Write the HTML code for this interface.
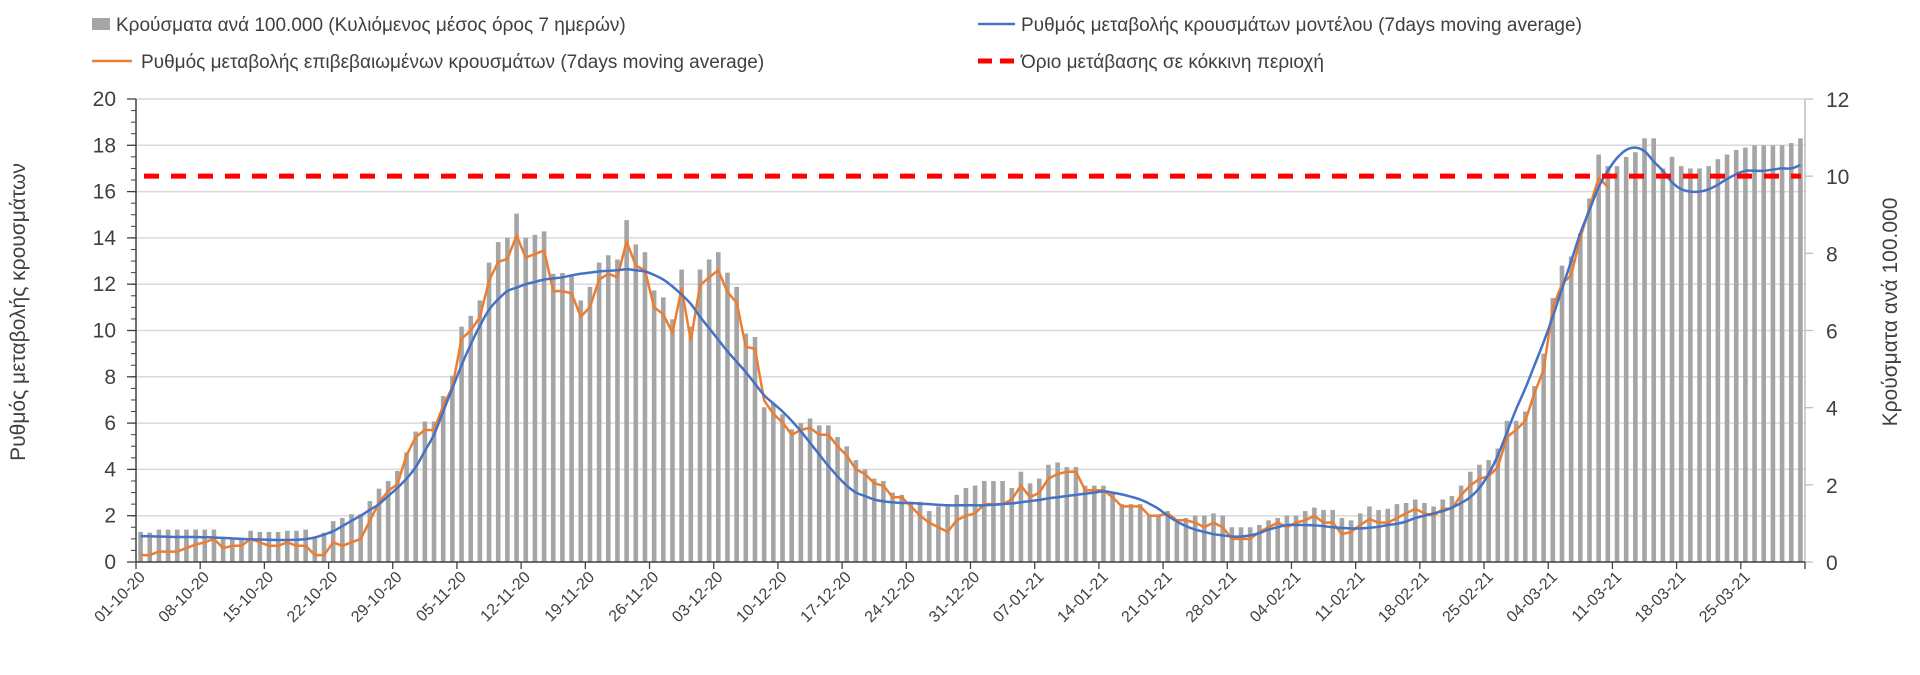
<!DOCTYPE html>
<html><head><meta charset="utf-8">
<style>
html,body{margin:0;padding:0;background:#fff;}
body{width:1920px;height:670px;overflow:hidden;font-family:"Liberation Sans",sans-serif;}
svg text{font-family:"Liberation Sans",sans-serif;fill:#404040;}
</style></head>
<body>
<svg id="chart" width="1920" height="670" viewBox="0 0 1920 670" xmlns="http://www.w3.org/2000/svg">
  <g id="grid"></g>
  <g id="bars"></g>
  <g id="lines"></g>
  <g id="axes"></g>
  <g id="legend">
    <g>
      <rect x="92" y="18" width="18" height="12" fill="#a5a5a5"/>
      <text x="116" y="31" font-size="19">Κρούσματα ανά 100.000 (Κυλιόμενος μέσος όρος 7 ημερών)</text>
    </g>
    <g>
      <line x1="978" y1="24" x2="1015" y2="24" stroke="#4472c4" stroke-width="2.5"/>
      <text x="1021" y="31" font-size="19">Ρυθμός μεταβολής κρουσμάτων μοντέλου (7days moving average)</text>
    </g>
    <g>
      <line x1="92" y1="61" x2="132" y2="61" stroke="#ed7d31" stroke-width="2.5"/>
      <text x="141" y="68" font-size="19">Ρυθμός μεταβολής επιβεβαιωμένων κρουσμάτων (7days moving average)</text>
    </g>
    <g>
      <line x1="978" y1="61" x2="1015" y2="61" stroke="#ff0000" stroke-width="5" stroke-dasharray="14 8"/>
      <text x="1021" y="68" font-size="19">Όριο μετάβασης σε κόκκινη περιοχή</text>
    </g>
  </g>
  <text x="0" y="0" font-size="21" text-anchor="middle" transform="translate(25,312) rotate(-90)">Ρυθμός μεταβολής κρουσμάτων</text>
  <text x="0" y="0" font-size="21" text-anchor="middle" transform="translate(1897,312) rotate(-90)">Κρούσματα ανά 100.000</text>
</svg>
<script>
// cases per 100k (right axis), one per day from 01-10-20
const casesPer100k = [0.78,0.76,0.84,0.84,0.84,0.84,0.84,0.84,0.84,0.6,0.63,0.63,0.81,0.78,0.78,0.78,0.81,0.81,0.84,0.63,0.76,1.06,1.14,1.24,1.24,1.58,1.9,2.1,2.36,2.84,3.38,3.64,3.64,4.3,4.83,6.1,6.38,6.78,7.76,8.29,8.4,9.03,8.4,8.48,8.57,7.47,7.49,7.43,6.78,7.13,7.76,7.95,7.84,8.86,8.23,8.03,7.04,6.86,6.29,7.58,6.1,7.58,7.84,8.03,7.5,7.13,5.92,5.83,4.01,4.11,3.83,3.44,
3.6,3.72,3.54,3.54,3.24,3.0,2.64,2.4,2.16,2.1,1.8,1.74,1.56,1.56,1.32,1.44,1.44,1.74,1.92,1.98,2.1,2.1,2.1,1.92,2.34,2.04,2.16,2.52,2.58,2.46,2.46,1.98,1.98,1.98,1.8,1.5,1.5,1.5,1.2,1.2,1.32,1.02,1.14,1.2,1.2,1.26,1.2,0.9,0.9,0.9,0.96,1.08,1.14,1.2,1.2,
1.32,1.41,1.35,1.35,1.14,1.08,1.26,1.44,1.35,1.38,1.5,1.53,1.62,1.53,1.44,1.62,1.71,1.98,2.34,2.52,2.64,2.94,3.66,3.66,3.9,4.56,5.4,6.84,7.68,7.92,8.52,9.42,
10.56,10.26,10.26,10.5,10.62,10.98,10.98,10.2,10.5,10.26,10.2,10.2,10.26,10.44,10.56,10.68,10.74,10.8,10.8,10.8,10.8,10.86,10.98];
// confirmed cases rate (left axis)
const confirmedRate = [0.3,0.3,0.45,0.45,0.45,0.6,0.75,0.85,1.0,0.6,0.7,0.7,1.0,0.85,0.7,0.7,0.85,0.7,0.7,0.3,0.3,0.85,0.7,0.85,1.0,1.77,2.57,3.07,3.36,4.6,5.4,5.7,5.7,6.75,7.55,9.64,10.0,10.58,12.16,12.96,13.1,14.1,13.15,13.3,13.46,11.7,11.7,11.6,10.6,11.0,12.2,12.45,12.3,13.85,12.8,12.6,11.0,10.7,9.9,11.8,9.57,11.95,12.3,12.6,11.66,11.2,9.3,9.2,6.97,6.4,6.03,5.5,
5.7,5.8,5.5,5.5,5.0,4.6,4.0,3.8,3.4,3.3,2.8,2.8,2.4,2.0,1.7,1.5,1.3,1.8,2.0,2.1,2.5,2.5,2.5,2.7,3.3,2.8,3.0,3.6,3.8,3.9,3.9,3.1,3.1,3.1,2.8,2.4,2.4,2.4,2.0,2.0,2.1,1.8,1.8,1.7,1.5,1.7,1.5,1.0,1.0,1.0,1.3,1.5,1.7,1.5,1.7,1.8,2.0,1.7,1.7,1.2,1.3,
1.6,1.85,1.7,1.7,1.9,2.1,2.3,2.1,2.0,2.3,2.3,2.9,3.3,3.6,3.7,4.1,5.4,5.7,6.1,7.3,8.3,11.0,12.0,12.4,14.0,15.3,16.6,16.2];
// model rate (left axis)
const modelRate = [1.12,1.11,1.10,1.09,1.08,1.08,1.08,1.07,1.06,1.04,1.02,1.00,0.98,0.97,0.96,0.95,0.95,0.96,0.99,1.06,
1.18,1.33,1.55,1.78,2.0,2.25,2.5,2.85,3.2,3.6,4.1,4.8,5.5,6.5,7.5,8.5,9.4,10.2,10.9,11.35,
11.7,11.85,12.0,12.1,12.2,12.25,12.3,12.38,12.45,12.5,12.55,12.58,12.6,12.65,12.6,12.55,12.4,12.2,11.9,11.55,
11.15,10.6,10.1,9.6,9.1,8.65,8.2,7.7,7.2,6.85,6.5,6.1,5.65,5.15,4.65,4.15,3.7,3.3,3.0,2.85,
2.7,2.62,2.58,2.55,2.55,2.52,2.5,2.47,2.45,2.45,2.45,2.45,2.45,2.47,2.5,2.53,2.58,2.63,2.68,2.75,
2.8,2.85,2.9,2.95,3.0,3.05,3.0,2.92,2.82,2.7,2.52,2.3,2.0,1.75,1.55,1.4,1.3,1.2,1.15,1.1,
1.1,1.15,1.25,1.4,1.5,1.6,1.6,1.6,1.58,1.55,1.5,1.47,1.45,1.45,1.48,1.52,1.6,1.65,1.75,1.9,
2.0,2.1,2.2,2.35,2.55,2.8,3.2,3.8,4.6,5.6,6.6,7.5,8.5,9.5,10.6,11.8,13.0,14.2,15.2,16.2,
16.9,17.45,17.8,17.9,17.75,17.3,16.9,16.4,16.1,16.0,16.0,16.1,16.3,16.55,16.75,16.9,16.9,16.9,16.95,17.0,17.0,17.15];
const redThreshold = [10];
const dateTickLabels = ["01-10-20","08-10-20","15-10-20","22-10-20","29-10-20","05-11-20","12-11-20","19-11-20","26-11-20","03-12-20","10-12-20","17-12-20","24-12-20","31-12-20","07-01-21","14-01-21","21-01-21","28-01-21","04-02-21","11-02-21","18-02-21","25-02-21","04-03-21","11-03-21","18-03-21","25-03-21"];
const leftTicks = [0,2,4,6,8,10,12,14,16,18,20];
const rightTicks = [0,2,4,6,8,10,12];

const NS = "http://www.w3.org/2000/svg";
const L = 136, R = 1805, T = 99, B = 562;
const n = casesPer100k.length;
const band = (R - L) / n;
const xC = i => L + (i + 0.5) * band;
const xB = i => L + i * band;
const yL = v => B - (v / 20) * (B - T);
const yR = v => B - (v / 12) * (B - T);
function mk(tag, attrs, parent) {
  const e = document.createElementNS(NS, tag);
  for (const k in attrs) e.setAttribute(k, attrs[k]);
  parent.appendChild(e);
  return e;
}
const grid = document.getElementById('grid');
const bars = document.getElementById('bars');
const lines = document.getElementById('lines');
const axes = document.getElementById('axes');

leftTicks.forEach(t => {
  if (t > 0) {
    const g = mk('line', {x1: L, x2: R, y1: yL(t), y2: yL(t), stroke: '#d9d9d9', 'stroke-width': 1.5}, grid);
    
    
  }
  const tx = mk('text', {x: 116, y: yL(t) + 7, 'font-size': 21, 'text-anchor': 'end'}, axes);
  tx.textContent = t;
  
  
  mk('line', {x1: L - 9, x2: L, y1: yL(t), y2: yL(t), stroke: '#404040', 'stroke-width': 1.3}, axes);
});
for (let v = 0; v < 20; v += 0.5) {
  mk('line', {x1: L - 5, x2: L, y1: yL(v), y2: yL(v), stroke: '#404040', 'stroke-width': 1}, axes);
}
rightTicks.forEach(t => {
  const tx = mk('text', {x: 1826, y: yR(t) + 8, 'font-size': 21}, axes);
  tx.textContent = t;
  
  
  mk('line', {x1: R, x2: R + 8, y1: yR(t), y2: yR(t), stroke: '#bfbfbf', 'stroke-width': 1.3}, axes);
});

casesPer100k.forEach((v, i) => {
  const r = mk('rect', {x: xC(i) - 2.3, y: yR(v), width: 4.6, height: B - yR(v), fill: '#a5a5a5'}, bars);
  
  
});

const oPts = confirmedRate.map((v, i) => xC(i).toFixed(1) + ',' + yL(v).toFixed(1)).join(' ');
const oLine = mk('polyline', {points: oPts, fill: 'none', stroke: '#ed7d31', 'stroke-width': 2.5, 'stroke-linejoin': 'round'}, lines);



const bp = modelRate.map((v, i) => [xC(i), yL(v)]);
let d = 'M' + bp[0][0].toFixed(1) + ',' + bp[0][1].toFixed(1);
for (let i = 0; i < bp.length - 1; i++) {
  const p0 = bp[Math.max(i - 1, 0)], p1 = bp[i], p2 = bp[i + 1], p3 = bp[Math.min(i + 2, bp.length - 1)];
  const c1 = [p1[0] + (p2[0] - p0[0]) / 6, p1[1] + (p2[1] - p0[1]) / 6];
  const c2 = [p2[0] - (p3[0] - p1[0]) / 6, p2[1] - (p3[1] - p1[1]) / 6];
  d += ' C' + c1[0].toFixed(1) + ',' + c1[1].toFixed(1) + ' ' + c2[0].toFixed(1) + ',' + c2[1].toFixed(1) + ' ' + p2[0].toFixed(1) + ',' + p2[1].toFixed(1);
}
const bLine = mk('path', {d: d, fill: 'none', stroke: '#4472c4', 'stroke-width': 2.5}, lines);



const red = mk('line', {x1: L + 8, x2: R - 4, y1: yR(redThreshold[0]), y2: yR(redThreshold[0]), stroke: '#ff0000', 'stroke-width': 5, 'stroke-dasharray': '15 12'}, lines);



mk('line', {x1: L, x2: L, y1: T, y2: B, stroke: '#404040', 'stroke-width': 1.5}, axes);
mk('line', {x1: R, x2: R, y1: T, y2: B, stroke: '#bfbfbf', 'stroke-width': 1.5}, axes);
mk('line', {x1: L, x2: R, y1: B, y2: B, stroke: '#404040', 'stroke-width': 1.5}, axes);
dateTickLabels.forEach((lab, k) => {
  const x = xB(k * 7);
  mk('line', {x1: x, x2: x, y1: B, y2: B + 7, stroke: '#404040', 'stroke-width': 1.3}, axes);
  const t = mk('text', {x: 0, y: 0, 'font-size': 16, 'text-anchor': 'end', transform: 'translate(' + (x + 10).toFixed(1) + ',' + (B + 16) + ') rotate(-45)'}, axes);
  t.textContent = lab;
  
  
});
mk('line', {x1: R, x2: R, y1: B, y2: B + 7, stroke: '#404040', 'stroke-width': 1.3}, axes);
</script>
</body></html>
